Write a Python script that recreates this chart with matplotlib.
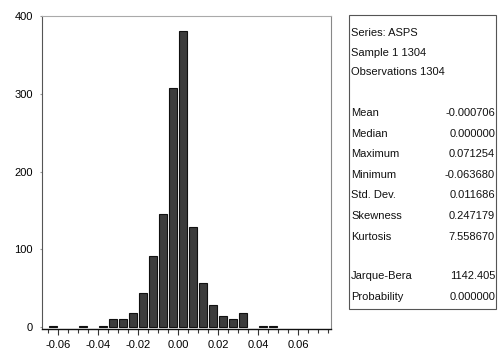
import numpy as np
import matplotlib.pyplot as plt
from matplotlib.patches import Rectangle

# histogram of ASPS returns, bins of width 0.005
bin_centers = [-0.0625, -0.0575, -0.0525, -0.0475, -0.0425, -0.0375, -0.0325, -0.0275,
               -0.0225, -0.0175, -0.0125, -0.0075, -0.0025, 0.0025, 0.0075, 0.0125,
               0.0175, 0.0225, 0.0275, 0.0325, 0.0375, 0.0425, 0.0475]
counts = [1, 0, 0, 2, 0, 2, 11, 11,
          18, 44, 91, 145, 307, 381, 129, 57,
          28, 15, 11, 18, 0, 1, 1]

stat_names = ["Mean", "Median", "Maximum", "Minimum", "Std. Dev.", "Skewness", "Kurtosis"]
stat_values = ["-0.000706", "0.000000", "0.071254", "-0.063680", "0.011686", "0.247179", "7.558670"]
test_names = ["Jarque-Bera", "Probability"]
test_values = ["1142.405", "0.000000"]
header = ["Series: ASPS", "Sample 1 1304", "Observations 1304"]

plt.rcParams['font.family'] = ['Liberation Sans', 'DejaVu Sans']

fig = plt.figure(figsize=(5, 3.59), dpi=100)
ax = fig.add_axes([0.084, 0.083, 0.578, 0.872])

# empty bins are left blank
heights = np.array(counts, dtype=float)
heights[heights == 0] = np.nan
ax.bar(bin_centers, heights, width=0.0041, color='#3c3c3c', edgecolor='#111111', linewidth=0.8)

ax.set_xlim(-0.068, 0.0765)
ax.set_ylim(-2.6, 400)
ax.set_xticks([-0.06, -0.04, -0.02, 0.00, 0.02, 0.04, 0.06])
ax.set_xticklabels(["-0.06", "-0.04", "-0.02", "0.00", "0.02", "0.04", "0.06"])
ax.set_xticks(np.arange(-0.065, 0.0766, 0.005), minor=True)
ax.set_yticks([0, 100, 200, 300, 400])
ax.tick_params(axis='x', which='major', length=4, width=0.8, labelsize=8, pad=4, color='#333333')
ax.tick_params(axis='x', which='minor', length=3, width=0.8, color='#333333')
ax.tick_params(axis='y', length=1.5, labelsize=8, pad=5, color='#999999')

ax.spines['left'].set_color('#555555')
ax.spines['bottom'].set_color('#111111')
ax.spines['bottom'].set_linewidth(1.0)
ax.spines['top'].set_color('#aaaaaa')
ax.spines['right'].set_color('#888888')

# statistics box on the right
box_l, box_r = 349 / 500, 496 / 500
box_t, box_b = 1 - 15 / 359, 1 - 309 / 359
fig.patches.append(Rectangle((box_l, box_b), box_r - box_l, box_t - box_b,
                             transform=fig.transFigure, fill=False,
                             edgecolor='#555555', linewidth=0.8))

def row(y_px, left, right=None):
    y = 1 - y_px / 359
    fig.text(box_l + 0.004, y, left, fontsize=8, va='center', ha='left', color='#111111')
    if right is not None:
        fig.text(box_r - 0.002, y, right, fontsize=8, va='center', ha='right', color='#111111')

for i, h in enumerate(header):
    row(33 + i * 19.5, h)
for i, (n, v) in enumerate(zip(stat_names, stat_values)):
    row(113 + i * 20.6, n, v)
for i, (n, v) in enumerate(zip(test_names, test_values)):
    row(276 + i * 21, n, v)

fig.savefig("out.png", dpi=100)
